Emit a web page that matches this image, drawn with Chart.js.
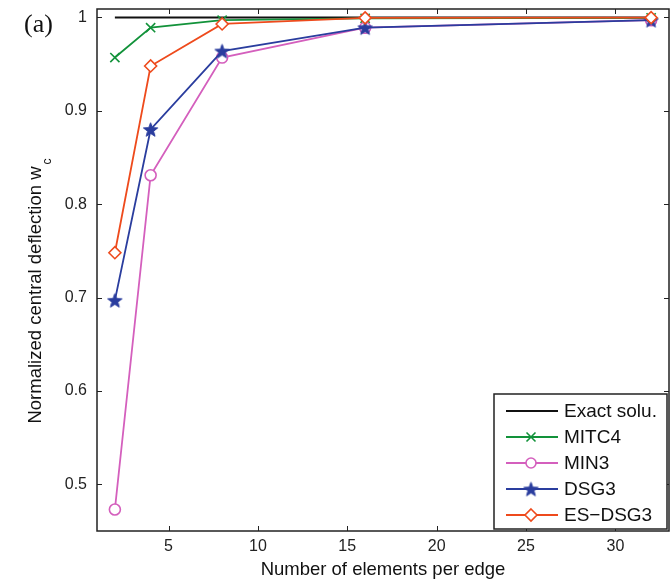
<!DOCTYPE html>
<html>
<head>
<meta charset="utf-8">
<script src="https://cdn.jsdelivr.net/npm/chart.js@4"></script>
<style>
  html, body { margin: 0; padding: 0; background: #fff; }
  #wrap { width: 672px; height: 583px; position: relative; }
</style>
</head>
<body>
<div id="wrap"><canvas id="chart" width="672" height="583"></canvas></div>
<script>
// data
const elems = [2, 4, 8, 16, 32];
const exact = [1, 1, 1, 1, 1];
const mitc4 = [0.957, 0.989, 0.997, 0.999, 0.9995];
const min3 = [0.473, 0.831, 0.957, 0.989, 0.997];
const dsg3 = [0.697, 0.880, 0.964, 0.989, 0.997];
const esdsg3 = [0.748, 0.948, 0.993, 0.9995, 0.9997];
const xTicks = [5, 10, 15, 20, 25, 30];
const yTicks = [0.5, 0.6, 0.7, 0.8, 0.9, 1];

const pts = (ys) => elems.map((x, i) => ({ x: x, y: ys[i] }));
const SANS = "'Liberation Sans', Arial, sans-serif";

// filled pentagram for the DSG3 markers
function makeStar(color, r) {
  const c = document.createElement("canvas");
  const s = Math.ceil(r * 2 + 4);
  c.width = s; c.height = s;
  const g = c.getContext("2d");
  const cx = s / 2, cy = s / 2 + r * 0.1;
  g.beginPath();
  for (let i = 0; i < 10; i++) {
    const rr = i % 2 === 0 ? r : r * 0.42;
    const a = -Math.PI / 2 + i * Math.PI / 5;
    const px = cx + rr * Math.cos(a), py = cy + rr * Math.sin(a);
    if (i === 0) g.moveTo(px, py); else g.lineTo(px, py);
  }
  g.closePath();
  g.fillStyle = color;
  g.fill();
  g.strokeStyle = color;
  g.lineWidth = 1;
  g.stroke();
  return c;
}

const BLUE = "#2a3d9e";
const starImg = makeStar(BLUE, 7.5);

const series = [
  { label: "Exact solu.", data: exact, color: "#111111", style: false, r: 0, order: 5 },
  { label: "MITC4", data: mitc4, color: "#12923a", style: "crossRot", r: 6.5, order: 4 },
  { label: "MIN3", data: min3, color: "#d45fbd", style: "circle", r: 5.5, order: 3 },
  { label: "DSG3", data: dsg3, color: BLUE, style: starImg, r: 6, order: 2 },
  { label: "ES\u2212DSG3", data: esdsg3, color: "#ee4a1c", style: "rectRot", r: 6, order: 1 },
];

// box, inward ticks, legend, y title with subscript
const decor = {
  id: "decor",
  afterDatasetsDraw(chart) {
    const ctx = chart.ctx;
    const a = chart.chartArea;
    const xs = chart.scales.x, ys = chart.scales.y;
    ctx.save();
    ctx.strokeStyle = "#222";
    ctx.lineWidth = 1.5;
    ctx.strokeRect(a.left, a.top, a.right - a.left, a.bottom - a.top);
    ctx.lineWidth = 1;
    const tl = 5;
    ctx.beginPath();
    xTicks.forEach(v => {
      const px = Math.round(xs.getPixelForValue(v)) + 0.5;
      ctx.moveTo(px, a.bottom); ctx.lineTo(px, a.bottom - tl);
      ctx.moveTo(px, a.top); ctx.lineTo(px, a.top + tl);
    });
    yTicks.forEach(v => {
      const py = Math.round(ys.getPixelForValue(v)) + 0.5;
      ctx.moveTo(a.left, py); ctx.lineTo(a.left + tl, py);
      ctx.moveTo(a.right, py); ctx.lineTo(a.right - tl, py);
    });
    ctx.stroke();

    // legend
    const lx = 494, ly = 394, lw = 173, lh = 135;
    ctx.fillStyle = "#fff";
    ctx.fillRect(lx, ly, lw, lh);
    ctx.strokeStyle = "#222";
    ctx.lineWidth = 1.5;
    ctx.strokeRect(lx, ly, lw, lh);
    ctx.font = "19px " + SANS;
    ctx.textBaseline = "middle";
    ctx.textAlign = "left";
    series.forEach((s, i) => {
      const y = ly + 17 + i * 26;
      ctx.strokeStyle = s.color;
      ctx.lineWidth = 2;
      ctx.beginPath();
      ctx.moveTo(lx + 12, y); ctx.lineTo(lx + 64, y);
      ctx.stroke();
      const mx = lx + 37;
      ctx.lineWidth = 1.6;
      if (s.style === "crossRot") {
        ctx.beginPath();
        ctx.moveTo(mx - 4.5, y - 4.5); ctx.lineTo(mx + 4.5, y + 4.5);
        ctx.moveTo(mx + 4.5, y - 4.5); ctx.lineTo(mx - 4.5, y + 4.5);
        ctx.stroke();
      } else if (s.style === "circle") {
        ctx.fillStyle = "#fff";
        ctx.beginPath(); ctx.arc(mx, y, 5, 0, Math.PI * 2); ctx.fill(); ctx.stroke();
      } else if (s.style === "rectRot") {
        ctx.fillStyle = "#fff";
        ctx.beginPath();
        ctx.moveTo(mx, y - 6); ctx.lineTo(mx + 6, y); ctx.lineTo(mx, y + 6); ctx.lineTo(mx - 6, y);
        ctx.closePath(); ctx.fill(); ctx.stroke();
      } else if (s.style) {
        ctx.drawImage(starImg, mx - starImg.width / 2, y - starImg.height / 2);
      }
      ctx.fillStyle = "#111";
      ctx.fillText(s.label, lx + 70, y + 1);
    });

    // y axis title
    ctx.translate(41, 292);
    ctx.rotate(-Math.PI / 2);
    ctx.fillStyle = "#111";
    const main = "Normalized central deflection w";
    ctx.font = "18.5px " + SANS;
    const w1 = ctx.measureText(main).width;
    ctx.font = "12px " + SANS;
    const w2 = ctx.measureText("c").width;
    const start = -(w1 + w2) / 2;
    ctx.font = "18.5px " + SANS;
    ctx.textAlign = "left";
    ctx.textBaseline = "alphabetic";
    ctx.fillText(main, start, 0);
    ctx.font = "12px " + SANS;
    ctx.fillText("c", start + w1 + 2, 10);
    ctx.restore();

    // panel label
    ctx.save();
    ctx.fillStyle = "#111";
    ctx.font = "26px 'Liberation Serif', 'Times New Roman', serif";
    ctx.textBaseline = "middle";
    ctx.fillText("(a)", 24, 25);
    ctx.restore();
  }
};

const tickFont = { family: SANS, size: 16 };

new Chart(document.getElementById("chart"), {
  type: "line",
  data: {
    datasets: series.map(s => ({
      label: s.label,
      data: pts(s.data),
      borderColor: s.color,
      backgroundColor: "#fff",
      borderWidth: s.style ? 1.8 : 2,
      pointStyle: s.style || "circle",
      pointRadius: s.r,
      pointBorderWidth: 1.6,
      pointBorderColor: s.color,
      pointBackgroundColor: s.style === "crossRot" ? s.color : "#fff",
      order: s.order,
      tension: 0,
      fill: false,
      clip: false,
    })),
  },
  options: {
    responsive: false,
    animation: false,
    layout: { autoPadding: false, padding: { top: 9, right: 3, left: 0, bottom: 0 } },
    plugins: { legend: { display: false }, tooltip: { enabled: false } },
    scales: {
      x: {
        type: "linear",
        min: 1, max: 33,
        afterBuildTicks: (sc) => { sc.ticks = xTicks.map(v => ({ value: v })); },
        afterFit: (sc) => { sc.height = 52; sc.paddingLeft = 0; sc.paddingRight = 0; },
        grid: { display: true, drawOnChartArea: false, drawTicks: false },
        border: { display: false },
        ticks: { font: tickFont, color: "#222", padding: 6, maxRotation: 0 },
        title: {
          display: true,
          text: "Number of elements per edge",
          font: { family: SANS, size: 18.5 },
          color: "#111",
          padding: { top: 0, bottom: 2 },
        },
      },
      y: {
        min: 0.45, max: 1.009,
        afterBuildTicks: (sc) => { sc.ticks = yTicks.map(v => ({ value: v })); },
        afterFit: (sc) => { sc.width = 97; sc.paddingTop = 0; sc.paddingBottom = 0; },
        grid: { display: true, drawOnChartArea: false, drawTicks: false },
        border: { display: false },
        ticks: {
          font: tickFont, color: "#222", padding: 10,
          callback: (v) => String(Math.round(v * 10) / 10),
        },
      },
    },
  },
  plugins: [decor],
});
</script>
</body>
</html>
